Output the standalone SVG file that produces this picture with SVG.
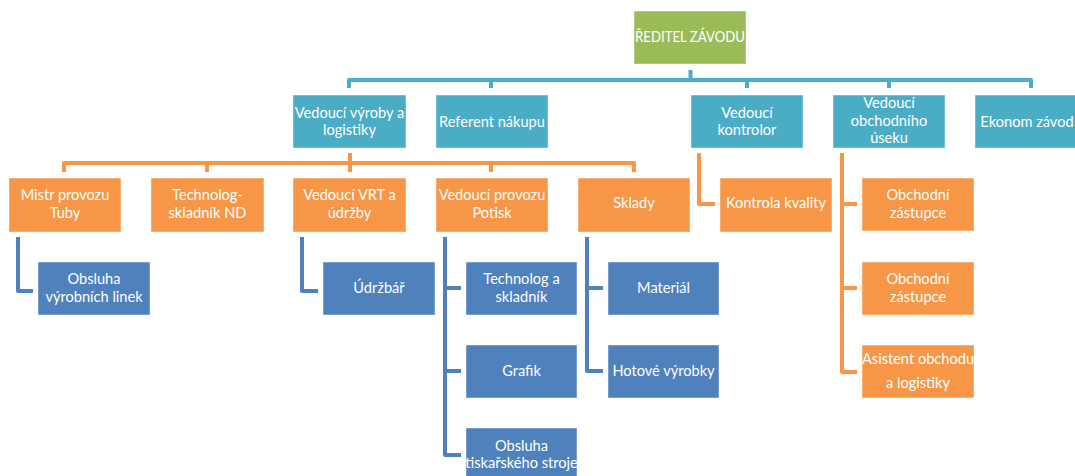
<svg xmlns="http://www.w3.org/2000/svg" width="1075" height="476" viewBox="0 0 1075 476">
<style>
rect.b{stroke:#ffffff;stroke-opacity:0.45;stroke-width:1}
.g{fill:#9BBB59}.t{fill:#4BACC6}.o{fill:#F79646}.bl{fill:#4F81BD}
text{font-family:Lato,"Liberation Sans",sans-serif;font-size:14.6px;fill:#ffffff;text-anchor:middle}
.ct path{fill:none;stroke-width:4;stroke-linejoin:round;stroke-linecap:butt}
.ct .ct-t{stroke:#4BACC6}.ct .ct-o{stroke:#F79646}.ct .ct-b{stroke:#4F81BD}
</style>
<rect width="1075" height="476" fill="#ffffff"/>
<g class="ct" id="connectors">
<path class="ct-t" d="M690.5 70V80M349 88V80H1031V88M491 80V88M747 80V88M889 80V88"/>
<path class="ct-o" d="M350 153V163M64 172V163H634V172M207 163V172M350 163V172M491 163V172"/>
<path class="ct-o" d="M699 153V204H715"/>
<path class="ct-o" d="M842 153V372H857M842 204H857M842 288H857"/>
<path class="ct-b" d="M18 237V291H33"/>
<path class="ct-b" d="M302 237V291H318"/>
<path class="ct-b" d="M445 237V455H461M445 288H461M445 371H461"/>
<path class="ct-b" d="M587 237V371H603M587 288H603"/>
</g>
<g id="reditel"><rect class="b g" x="634" y="11" width="112" height="53"/><text x="690" y="42" textLength="110" lengthAdjust="spacingAndGlyphs">ŘEDITEL ZÁVODU</text></g>
<g id="vyroby"><rect class="b t" x="293" y="95" width="113" height="53"/><text x="349.5" y="118">Vedoucí výroby a</text><text x="349.5" y="135">logistiky</text></g>
<g id="referent"><rect class="b t" x="436" y="95" width="112" height="53"/><text x="492" y="127">Referent nákupu</text></g>
<g id="kontrolor"><rect class="b t" x="691" y="95" width="112" height="53"/><text x="747" y="118">Vedoucí</text><text x="747" y="135">kontrolor</text></g>
<g id="obchodni-usek"><rect class="b t" x="833" y="95" width="112" height="53"/><text x="889" y="108">Vedoucí</text><text x="889" y="126">obchodního</text><text x="889" y="143">úseku</text></g>
<g id="ekonom"><rect class="b t" x="975" y="95" width="112" height="53"/><text x="1027" y="127">Ekonom závod</text></g>
<g id="mistr"><rect class="b o" x="9" y="178" width="112" height="54"/><text x="65" y="200">Mistr provozu</text><text x="65" y="218">Tuby</text></g>
<g id="technolog-nd"><rect class="b o" x="151" y="178" width="113" height="54"/><text x="207.5" y="200">Technolog-</text><text x="207.5" y="218">skladník ND</text></g>
<g id="vrt"><rect class="b o" x="293" y="178" width="113" height="54"/><text x="349.5" y="200">Vedoucí VRT a</text><text x="349.5" y="218">údržby</text></g>
<g id="potisk"><rect class="b o" x="436" y="178" width="112" height="54"/><text x="492" y="200">Vedoucí provozu</text><text x="492" y="218">Potisk</text></g>
<g id="sklady"><rect class="b o" x="578" y="178" width="112" height="54"/><text x="634" y="208">Sklady</text></g>
<g id="kontrola"><rect class="b o" x="720" y="178" width="112" height="54"/><text x="776" y="208">Kontrola kvality</text></g>
<g id="obchodni1"><rect class="b o" x="862" y="178" width="112" height="53"/><text x="918" y="200">Obchodní</text><text x="918" y="218">zástupce</text></g>
<g id="obchodni2"><rect class="b o" x="862" y="262" width="112" height="53"/><text x="918" y="284">Obchodní</text><text x="918" y="302">zástupce</text></g>
<g id="asistent"><rect class="b o" x="862" y="345" width="112" height="53"/><text x="918" y="364">Asistent obchodu</text><text x="918" y="388">a logistiky</text></g>
<g id="obsluha-linek"><rect class="b bl" x="38" y="262" width="112" height="53"/><text x="94" y="284">Obsluha</text><text x="94" y="302">výrobních linek</text></g>
<g id="udrzbar"><rect class="b bl" x="323" y="262" width="112" height="53"/><text x="379" y="293">Údržbář</text></g>
<g id="technolog-skladnik"><rect class="b bl" x="466" y="262" width="111" height="53"/><text x="521.5" y="284">Technolog a</text><text x="521.5" y="302">skladník</text></g>
<g id="grafik"><rect class="b bl" x="466" y="345" width="111" height="53"/><text x="521.5" y="376">Grafik</text></g>
<g id="obsluha-stroje"><rect class="b bl" x="466" y="428" width="111" height="54"/><text x="521.5" y="451">Obsluha</text><text x="521.5" y="468">tiskařského stroje</text></g>
<g id="material"><rect class="b bl" x="608" y="262" width="111" height="53"/><text x="663.5" y="293">Materiál</text></g>
<g id="hotove"><rect class="b bl" x="608" y="345" width="111" height="53"/><text x="663.5" y="376">Hotové výrobky</text></g>
</svg>
